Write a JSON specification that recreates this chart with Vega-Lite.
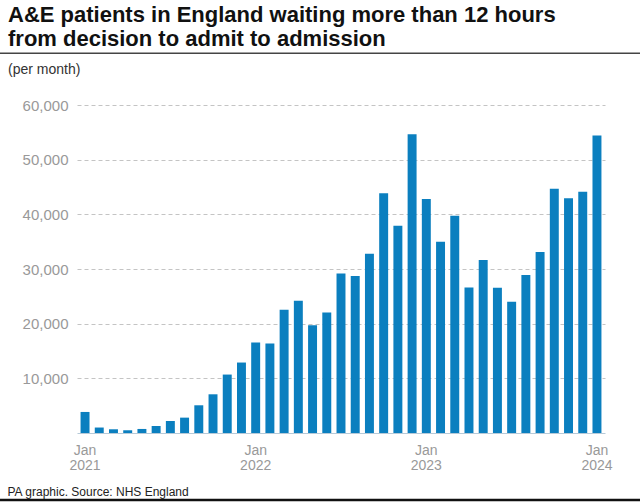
{
  "$schema": "https://vega.github.io/schema/vega-lite/v6.json",
  "width": 528,
  "height": 328,
  "autosize": {"type": "none"},
  "padding": {"left": 77, "top": 105, "right": 35, "bottom": 69},
  "background": "white",
  "config": {"view": {"stroke": null}},
  "title": {
    "text": ["A&E patients in England waiting more than 12 hours", "from decision to admit to admission"],
    "subtitle": "(per month)",
    "anchor": "start",
    "frame": "group",
    "dx": -69,
    "offset": -25,
    "font": "Liberation Sans",
    "fontSize": 22,
    "fontWeight": "bold",
    "color": "#111111",
    "lineHeight": 24,
    "subtitleFont": "Liberation Sans",
    "subtitleFontSize": 14,
    "subtitleColor": "#333333",
    "subtitlePadding": 12
  },
  "data": {
    "values": [
      {"month": "2021-01", "value": 3850},
      {"month": "2021-02", "value": 1000},
      {"month": "2021-03", "value": 680},
      {"month": "2021-04", "value": 500},
      {"month": "2021-05", "value": 740},
      {"month": "2021-06", "value": 1280},
      {"month": "2021-07", "value": 2200},
      {"month": "2021-08", "value": 2810},
      {"month": "2021-09", "value": 5070},
      {"month": "2021-10", "value": 7080},
      {"month": "2021-11", "value": 10690},
      {"month": "2021-12", "value": 12890},
      {"month": "2022-01", "value": 16560},
      {"month": "2022-02", "value": 16370},
      {"month": "2022-03", "value": 22530},
      {"month": "2022-04", "value": 24180},
      {"month": "2022-05", "value": 19720},
      {"month": "2022-06", "value": 22050},
      {"month": "2022-07", "value": 29190},
      {"month": "2022-08", "value": 28700},
      {"month": "2022-09", "value": 32790},
      {"month": "2022-10", "value": 43840},
      {"month": "2022-11", "value": 37920},
      {"month": "2022-12", "value": 54650},
      {"month": "2023-01", "value": 42800},
      {"month": "2023-02", "value": 34980},
      {"month": "2023-03", "value": 39740},
      {"month": "2023-04", "value": 26630},
      {"month": "2023-05", "value": 31630},
      {"month": "2023-06", "value": 26560},
      {"month": "2023-07", "value": 23990},
      {"month": "2023-08", "value": 28880},
      {"month": "2023-09", "value": 33100},
      {"month": "2023-10", "value": 44690},
      {"month": "2023-11", "value": 42930},
      {"month": "2023-12", "value": 44140},
      {"month": "2024-01", "value": 54400}
    ]
  },
  "layer": [
    {
      "mark": {"type": "bar", "color": "#0b7fbf"},
      "encoding": {
        "x": {
          "field": "month",
          "type": "ordinal",
          "sort": null,
          "scale": {"paddingInner": 0.37, "paddingOuter": 0.25},
          "axis": {
            "values": ["2021-01", "2022-01", "2023-01", "2024-01"],
            "labelExpr": "['Jan', slice(datum.value, 0, 4)]",
            "labelAngle": 0,
            "labelFont": "Liberation Sans",
            "labelFontSize": 14,
            "labelColor": "#999999",
            "labelLineHeight": 15,
            "labelPadding": 10,
            "ticks": false,
            "domainColor": "#b7cad8",
            "domainWidth": 1,
            "title": "PA graphic. Source: NHS England",
            "titleFont": "Liberation Sans",
            "titleFontSize": 12,
            "titleFontWeight": "normal",
            "titleColor": "#222222",
            "titleAlign": "left",
            "titleAnchor": "start",
            "titleX": -70,
            "titleY": 62,
            "titleBaseline": "alphabetic"
          }
        },
        "y": {
          "field": "value",
          "type": "quantitative",
          "scale": {"domain": [0, 60000], "nice": false},
          "axis": {
            "values": [10000, 20000, 30000, 40000, 50000, 60000],
            "format": ",.0f",
            "title": null,
            "domain": false,
            "ticks": false,
            "labelFont": "Liberation Sans",
            "labelFontSize": 15,
            "labelColor": "#999999",
            "labelPadding": 9,
            "grid": true,
            "gridColor": "#c4c4c4",
            "gridDash": [4, 3],
            "gridWidth": 1
          }
        }
      }
    },
    {
      "data": {"values": [{"pos": 69450}]},
      "mark": {"type": "rule", "color": "#444444", "strokeWidth": 1.5, "clip": false},
      "encoding": {
        "y": {"field": "pos", "type": "quantitative"},
        "x": {"value": -77},
        "x2": {"value": 563}
      }
    },
    {
      "data": {"values": [{"pos": -12250}]},
      "mark": {"type": "rule", "color": "#111111", "strokeWidth": 2.5, "clip": false},
      "encoding": {
        "y": {"field": "pos", "type": "quantitative"},
        "x": {"value": -77},
        "x2": {"value": 563}
      }
    }
  ]
}
